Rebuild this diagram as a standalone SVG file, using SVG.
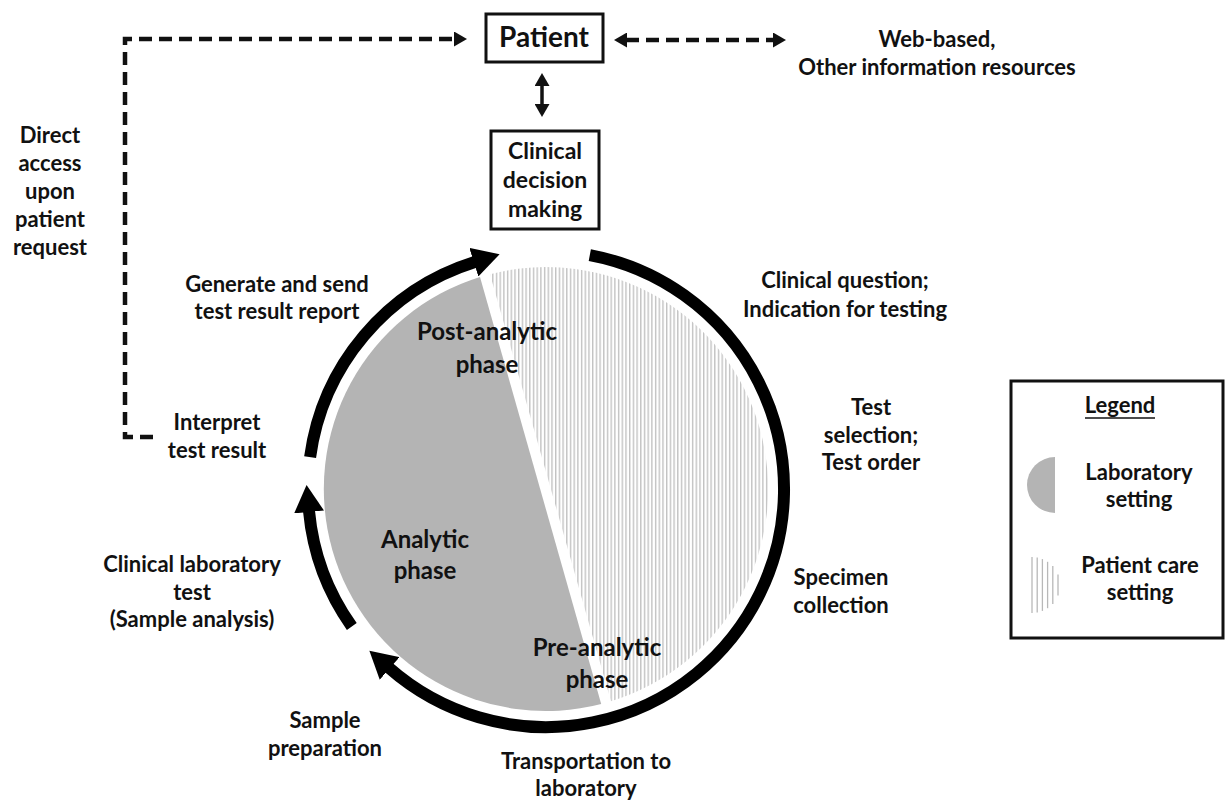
<svg xmlns="http://www.w3.org/2000/svg" width="1230" height="804" viewBox="0 0 1230 804">
  <style>
    text { font-family: "Lato", "Liberation Sans", sans-serif; font-weight: 700; font-size: 22px; fill: #111; text-anchor: middle; }
    .big { font-size: 28px; }
    .mid { font-size: 23px; }
    .phase { font-size: 24px; }
    .box { fill: #fff; stroke: #111; stroke-width: 3; }
    .dash { fill: none; stroke: #111; stroke-width: 4.5; stroke-dasharray: 13 7; }
    .solid { fill: none; stroke: #111; stroke-width: 3.5; }
    .ring { fill: none; stroke: #000; stroke-width: 12; stroke-linecap: butt; }
    .hl { stroke: #b8b8b8; stroke-width: 1.3; }
  </style>
  <defs>
    <marker id="head" markerUnits="userSpaceOnUse" markerWidth="15" markerHeight="15" refX="1" refY="7.5" orient="auto-start-reverse">
      <path d="M0,0 L13,7.5 L0,15 z" fill="#111"/>
    </marker>
    <marker id="bigHead" markerUnits="userSpaceOnUse" markerWidth="30" markerHeight="30" refX="1" refY="15" orient="auto">
      <path d="M0,0 L27,15 L0,30 z" fill="#000"/>
    </marker>
    <pattern id="vlines" patternUnits="userSpaceOnUse" width="3.7" height="10">
      <rect x="0" y="0" width="1.4" height="10" fill="#c2c2c2"/>
    </pattern>
  </defs>

  <!-- phase disc: laboratory half and patient-care half -->
  <g id="phase-disc">
    <path d="M601.2,704 A222,222 0 0 1 480,277 Z" fill="#b4b4b4"/>
    <path d="M490,274.2 L611,701.3 A222,222 0 0 0 490,274.2 Z" fill="url(#vlines)"/>
  </g>

  <!-- cycle arrows around the disc -->
  <g id="cycle">
    <path class="ring" d="M589.8,255.1 A238,238 0 1 1 388.9,667.8" marker-end="url(#bigHead)"/>
    <path class="ring" d="M351.8,626.5 A238,238 0 0 1 309,511" marker-end="url(#bigHead)"/>
    <path class="ring" d="M310.1,457.1 A238,238 0 0 1 474.8,261.9" marker-end="url(#bigHead)"/>
  </g>

  <!-- connectors -->
  <g id="connectors">
    <path class="dash" d="M153,437 H125 V39 H455" marker-end="url(#head)"/>
    <path class="dash" d="M626,40 H774" marker-start="url(#head)" marker-end="url(#head)"/>
    <path class="solid" d="M542,85 V105" marker-start="url(#head)" marker-end="url(#head)"/>
  </g>

  <g id="patient">
    <rect class="box" x="486" y="14" width="117" height="48"/>
    <text class="big" x="544" y="47">Patient</text>
  </g>

  <g id="clinical-decision">
    <rect class="box" x="491" y="131" width="108" height="98"/>
    <text class="mid" x="545" y="159">Clinical</text>
    <text class="mid" x="545" y="188">decision</text>
    <text class="mid" x="545" y="217">making</text>
  </g>

  <g id="web-resources">
    <text x="937" y="47">Web-based,</text>
    <text x="937" y="75">Other information resources</text>
  </g>

  <g id="direct-access">
    <text x="50" y="143">Direct</text>
    <text x="50" y="171">access</text>
    <text x="50" y="199">upon</text>
    <text x="50" y="227">patient</text>
    <text x="50" y="255">request</text>
  </g>

  <g id="step-report">
    <text x="277" y="292">Generate and send</text>
    <text x="277" y="319">test result report</text>
  </g>

  <g id="step-interpret">
    <text x="217" y="430">Interpret</text>
    <text x="217" y="458">test result</text>
  </g>

  <g id="step-analysis">
    <text x="192" y="572">Clinical laboratory</text>
    <text x="192" y="600">test</text>
    <text x="192" y="627">(Sample analysis)</text>
  </g>

  <g id="step-preparation">
    <text x="325" y="728">Sample</text>
    <text x="325" y="756">preparation</text>
  </g>

  <g id="step-transport">
    <text x="586" y="769">Transportation to</text>
    <text x="586" y="796">laboratory</text>
  </g>

  <g id="step-collection">
    <text x="841" y="585">Specimen</text>
    <text x="841" y="613">collection</text>
  </g>

  <g id="step-order">
    <text x="871" y="415">Test</text>
    <text x="871" y="443">selection;</text>
    <text x="871" y="470">Test order</text>
  </g>

  <g id="step-question">
    <text x="845" y="288">Clinical question;</text>
    <text x="845" y="317">Indication for testing</text>
  </g>

  <g id="phase-labels">
    <text class="phase" x="487" y="340">Post-analytic</text>
    <text class="phase" x="487" y="373">phase</text>
    <text class="phase" x="425" y="548">Analytic</text>
    <text class="phase" x="425" y="579">phase</text>
    <text class="phase" x="597" y="656">Pre-analytic</text>
    <text class="phase" x="597" y="688">phase</text>
  </g>

  <g id="legend">
    <rect class="box" x="1011" y="381" width="212" height="257"/>
    <text x="1120" y="413">Legend</text>
    <line x1="1085" y1="418" x2="1155" y2="418" stroke="#111" stroke-width="1.5"/>
    <path d="M1055,457 A28,28 0 0 0 1055,513 Z" fill="#b4b4b4"/>
    <text x="1139" y="480">Laboratory</text>
    <text x="1139" y="507">setting</text>
    <g class="hl">
      <line x1="1032" y1="557" x2="1032" y2="613"/>
      <line x1="1037.2" y1="557.5" x2="1037.2" y2="612.5"/>
      <line x1="1042.4" y1="559.1" x2="1042.4" y2="610.9"/>
      <line x1="1047.6" y1="561.8" x2="1047.6" y2="608.2"/>
      <line x1="1052.8" y1="566.1" x2="1052.8" y2="603.9"/>
      <line x1="1058" y1="574.6" x2="1058" y2="595.4"/>
    </g>
    <text x="1140" y="573">Patient care</text>
    <text x="1140" y="600">setting</text>
  </g>
</svg>
